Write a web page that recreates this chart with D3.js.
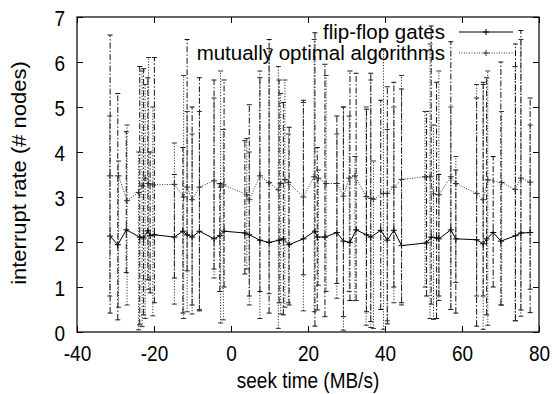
<!DOCTYPE html>
<html>
<head>
<meta charset="utf-8">
<script src="https://cdn.jsdelivr.net/npm/d3@7/dist/d3.min.js"></script>
<style>
  body { margin: 0; background: #fff; }
  text { font-family: "Liberation Sans", Arial, sans-serif; fill: #000; }
</style>
</head>
<body>
<div id="chart"></div>
<script>
// series 1: flip-flop gates
var flipX  = [-31.4, -29.4, -27.2, -23.7, -22.7, -21.6, -21.0, -19.9, -14.7, -12.5, -11.4, -10.1,
              -8.2, -4.4, -2.9, -1.8, 3.6, 4.75, 7.5, 9.9, 12.5, 13.6, 15.1, 18.8,
              21.8, 22.4, 24.4, 27.5, 29.2, 30.9, 32.5, 35.2, 36.3, 38.9, 40.6, 42.3,
              44.3, 50.8, 52.0, 53.4, 54.0, 57.1, 58.4, 63.8, 65.5, 66.4, 68.1, 70.1,
              73.9, 75.3, 77.7];
var flipY  = [2.13, 1.94, 2.27, 2.11, 2.09, 2.25, 2.14, 2.16, 2.11, 2.24, 2.16, 2.11,
              2.24, 2.07, 2.14, 2.24, 2.2, 2.16, 2.04, 1.99, 2.04, 2.07, 1.94, 2.07,
              2.24, 2.11, 2.11, 2.21, 2.02, 1.99, 2.27, 2.16, 2.11, 2.26, 2.04, 2.26,
              1.92, 1.98, 2.11, 2.09, 2.07, 2.27, 2.07, 2.05, 1.96, 2.07, 2.21, 2.02,
              2.14, 2.2, 2.21];
var flipLo = [0.42, 0.27, 1.32, 0.16, 0.38, 1.16, 0.87, 0.65, 1.2, 0.42, 1.36, 0.6,
              0.47, 1.4, 0.9, 1.0, 1.29, 0.8, 0.9, 0.42, 0.65, 0.38, 0.6, 1.27,
              0.13, 0.49, 0.34, 1.08, 0.34, 0.7, 0.7, 0.45, 0.23, 0.5, 0.18, 1.0,
              0.65, 0.8, 0.62, 0.3, 0.8, 0.5, 0.42, 0.13, 0.8, 0.38, 1.0, 0.6,
              0.25, 0.49, 0.43];
var flipHi = [6.6, 5.3, 4.45, 5.9, 5.85, 5.65, 4.0, 6.1, 3.5, 4.1, 6.5, 5.0,
              5.65, 5.6, 3.3, 5.6, 4.25, 5.05, 5.65, 6.5, 5.6, 5.1, 4.55, 5.15,
              6.65, 4.1, 5.95, 4.8, 5.0, 5.8, 5.75, 4.95, 5.75, 5.15, 5.45, 5.55,
              5.4, 4.9, 6.8, 5.55, 3.5, 6.45, 3.6, 5.2, 5.55, 5.65, 3.9, 6.0,
              6.4, 6.7, 5.2];

// series 2: mutually optimal algorithms
var mutX  = [-31.5, -29.2, -27.0, -24.0, -23.1, -22.3, -21.4, -20.3, -14.7, -12.3, -11.4, -10.1,
             -8.2, -4.4, -2.7, -2.0, 4.1, 4.75, 7.5, 9.9, 12.3, 12.9, 14.0, 14.9,
             18.8, 21.6, 22.7, 24.7, 27.5, 29.2, 30.7, 32.2, 35.1, 36.3, 37.0, 39.6,
             40.6, 42.3, 44.3, 50.4, 51.7, 52.6, 54.0, 57.1, 58.4, 63.8, 65.5, 66.7,
             70.3, 73.8, 75.3, 77.7];
var mutY  = [3.47, 3.47, 2.92, 3.10, 3.25, 3.42, 3.30, 3.27, 3.28, 3.0, 3.22, 2.94,
             3.22, 3.36, 3.22, 3.27, 3.05, 2.94, 3.47, 3.32, 3.16, 3.30, 3.39, 3.32,
             3.0, 3.45, 3.42, 3.30, 3.30, 3.02, 3.42, 3.47, 3.01, 2.97, 2.95, 3.08,
             3.08, 3.22, 3.39, 3.45, 3.45, 3.07, 3.05, 3.45, 3.30, 3.08, 2.94, 3.38,
             3.32, 3.17, 3.42, 3.33];
var mutLo = [0.8, 0.55, 0.6, 0.05, 0.12, 0.3, 0.95, 0.36, 0.62, 0.3, 0.45, 0.4,
             0.5, 1.2, 0.2, 0.27, 1.4, 0.6, 0.3, 0.85, 0.08, 0.4, 0.55, 0.65,
             0.47, 0.45, 1.04, 0.9, 0.75, 0.04, 0.9, 0.7, 0.15, 0.1, 0.08, 0.06,
             0.25, 0.65, 0.6, 1.0, 0.3, 0.28, 0.7, 0.5, 1.1, 0.8, 0.06, 0.15,
             0.6, 0.25, 0.35, 0.95];
var mutHi = [4.8, 3.8, 4.6, 4.0, 5.8, 5.5, 6.1, 5.0, 4.2, 5.7, 4.9, 4.4,
             4.9, 5.2, 5.8, 4.5, 4.3, 4.0, 5.8, 6.3, 5.9, 5.3, 5.6, 4.4,
             5.1, 6.5, 3.6, 5.7, 4.4, 5.0, 4.8, 3.9, 5.0, 5.6, 3.8, 6.3,
             4.5, 5.0, 5.7, 4.9, 6.4, 4.6, 5.8, 5.0, 3.9, 5.5, 5.5, 5.8,
             4.9, 5.9, 6.5, 4.6];

var seriesNames = ['flip-flop gates', 'mutually optimal algorithms'];
var xTicks = [-40, -20, 0, 20, 40, 60, 80];
var yTicks = [0, 1, 2, 3, 4, 5, 6, 7];

var W = 553, H = 394;
var margin = { top: 17, right: 14, bottom: 62, left: 77 };
var width = W - margin.left - margin.right,
    height = H - margin.top - margin.bottom;

// the source picture is a little stretched vertically, text too
var stretch = 1.2;

var svg = d3.select('#chart').append('svg')
    .attr('width', W)
    .attr('height', H);

var g = svg.append('g')
    .attr('transform', 'translate(' + margin.left + ',' + margin.top + ')');

var x = d3.scaleLinear().domain([-40, 80]).range([0, width]);
var y = d3.scaleLinear().domain([0, 7]).range([height, 0]);

function zipSeries(xs, ys, los, his) {
    return xs.map(function (d, i) {
        return { x: d, y: ys[i], lo: los[i], hi: his[i] };
    });
}

var series = [
    { name: seriesNames[0], data: zipSeries(flipX, flipY, flipLo, flipHi),
      lineDash: null, barDash: '6,2,1.5,2', lineColor: '#000', barColor: '#111' },
    { name: seriesNames[1], data: zipSeries(mutX, mutY, mutLo, mutHi),
      lineDash: '1,1.5', barDash: '1.2,1.6', lineColor: '#333', barColor: '#333' }
];

var fmt = function (d) { return String(d); };

// axes (gnuplot style: ticks inward, mirrored)
var tl = 6;
var xAxis = g.append('g').attr('class', 'x axis')
    .attr('transform', 'translate(0,' + height + ')')
    .call(d3.axisBottom(x).tickValues(xTicks).tickSizeInner(-tl).tickSizeOuter(0).tickFormat(fmt));
g.append('g').attr('class', 'x axis top')
    .call(d3.axisTop(x).tickValues(xTicks).tickSizeInner(-tl).tickSizeOuter(0).tickFormat(''));
var yAxis = g.append('g').attr('class', 'y axis')
    .call(d3.axisLeft(y).tickValues(yTicks).tickSizeInner(-tl).tickSizeOuter(0).tickPadding(12).tickFormat(fmt));
g.append('g').attr('class', 'y axis right')
    .attr('transform', 'translate(' + width + ',0)')
    .call(d3.axisRight(y).tickValues(yTicks).tickSizeInner(-tl).tickSizeOuter(0).tickFormat(''));

g.selectAll('.axis .domain').remove();
g.selectAll('.axis line').attr('stroke', '#000').attr('stroke-width', 1);
g.selectAll('.axis text')
    .style('font-size', '19px')
    .style('font-family', '"Liberation Sans", Arial, sans-serif')
    .attr('fill', '#000');

xAxis.selectAll('text')
    .attr('y', 0).attr('dy', 0)
    .attr('transform', 'translate(0,29) scale(1,' + stretch + ')');
yAxis.selectAll('text')
    .attr('dy', '0.36em')
    .attr('transform', 'scale(1,' + stretch + ')');

// error bars + lines
var line = d3.line()
    .x(function (d) { return x(d.x); })
    .y(function (d) { return y(d.y); });

series.forEach(function (s) {
    var eg = g.append('g');
    eg.selectAll('line.bar')
        .data(s.data).enter().append('line')
        .attr('x1', function (d) { return x(d.x); })
        .attr('x2', function (d) { return x(d.x); })
        .attr('y1', function (d) { return y(d.lo); })
        .attr('y2', function (d) { return y(d.hi); })
        .attr('stroke', s.barColor)
        .attr('stroke-width', 1)
        .attr('stroke-dasharray', s.barDash);
    ['lo', 'hi'].forEach(function (k) {
        eg.selectAll('line.cap' + k)
            .data(s.data).enter().append('line')
            .attr('x1', function (d) { return x(d.x) - 2.5; })
            .attr('x2', function (d) { return x(d.x) + 2.5; })
            .attr('y1', function (d) { return y(d[k]); })
            .attr('y2', function (d) { return y(d[k]); })
            .attr('stroke', s.barColor)
            .attr('stroke-width', 1);
    });

    g.append('path')
        .datum(s.data)
        .attr('fill', 'none')
        .attr('stroke', s.lineColor)
        .attr('stroke-width', 1)
        .attr('stroke-dasharray', s.lineDash)
        .attr('d', line);

    g.append('g').selectAll('path.pt')
        .data(s.data).enter().append('path')
        .attr('d', 'M-3,0H3M0,-3V3')
        .attr('transform', function (d) { return 'translate(' + x(d.x) + ',' + y(d.y) + ')'; })
        .attr('stroke', s.lineColor)
        .attr('stroke-width', 1);
});

// frame
g.append('rect')
    .attr('width', width).attr('height', height)
    .attr('fill', 'none').attr('stroke', '#000').attr('stroke-width', 1.2);

// legend
var legend = g.append('g');
series.forEach(function (s, i) {
    var ly = 15 + i * 21;
    legend.append('text')
        .attr('x', 368).attr('y', ly + 7)
        .attr('text-anchor', 'end')
        .style('font-size', '20.5px')
        .text(s.name);
    legend.append('line')
        .attr('x1', 382).attr('x2', 436)
        .attr('y1', ly).attr('y2', ly)
        .attr('stroke', s.lineColor)
        .attr('stroke-width', 1)
        .attr('stroke-dasharray', s.lineDash);
    legend.append('path')
        .attr('d', 'M-3,0H3M0,-3V3')
        .attr('transform', 'translate(409,' + ly + ')')
        .attr('stroke', s.lineColor);
});

// axis labels
svg.append('text')
    .attr('transform', 'translate(' + (margin.left + width / 2) + ',388) scale(1,' + stretch + ')')
    .attr('text-anchor', 'middle')
    .style('font-size', '19px')
    .text('seek time (MB/s)');

svg.append('text')
    .attr('transform', 'translate(26,173) rotate(-90) scale(1.1,1)')
    .attr('text-anchor', 'middle')
    .style('font-size', '20px')
    .text('interrupt rate (# nodes)');
</script>
</body>
</html>
